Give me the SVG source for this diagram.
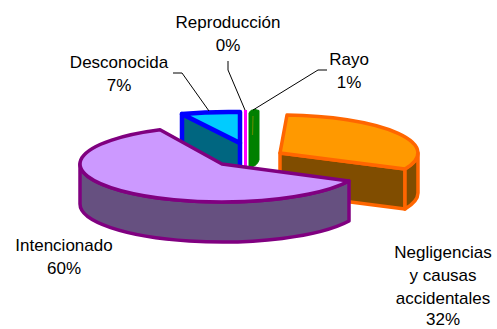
<svg xmlns="http://www.w3.org/2000/svg" width="497" height="329" viewBox="0 0 497 329">
<style>
text{font-family:"Liberation Sans",Arial,sans-serif;font-size:17px;fill:#000;text-anchor:middle}
.lead{fill:none;stroke:#000;stroke-width:1}
.pu{stroke:#800080;stroke-width:3.5;stroke-linejoin:round}
.or{stroke:#FF6600;stroke-width:3.5;stroke-linejoin:round}
.bl{stroke:#0000FF;stroke-width:4.5;stroke-linejoin:round}
</style>
<rect width="497" height="329" fill="#fff"/>
<g id="desconocida">
<path class="bl" fill="#006680" d="M240,143 L182,114 L182,154 L240,183 Z"/>
<path class="bl" fill="#00CCFF" d="M240,143 L182,114 A142,38 0 0 1 240,112 Z"/>
<text x="119" y="68">Desconocida</text>
<text x="119" y="91">7%</text>
</g>
<g id="reproduccion">
<rect x="244" y="110" width="3" height="58" fill="#FF00FF"/>
<text x="228" y="28">Reproducción</text>
<text x="228" y="51">0%</text>
</g>
<g id="rayo">
<path fill="#008000" stroke="#008000" stroke-width="1" d="M249,113 Q250,109.5 255,109.5 L259,110.5 L259,160 Q257,166 251,167 L249,167 Z"/>
<path d="M253,116 L252.5,135" stroke="#809000" stroke-width="1.2" opacity="0.7" fill="none"/>
<text x="349" y="65">Rayo</text>
<text x="349" y="88">1%</text>
</g>
<g id="negligencias">
<path class="or" fill="#804D00" d="M280,153 L405,169 L405,209 L280,193 Z"/>
<path class="or" fill="#804D00" d="M405,169 A138,38 0 0 0 418,153 L418,193 A138,38 0 0 1 405,209 Z"/>
<path class="or" fill="#FF9900" d="M280,153 L287,115 A138,38 0 0 1 405,169 Z"/>
<text x="443" y="258">Negligencias</text>
<text x="443" y="281">y causas</text>
<text x="443" y="304">accidentales</text>
<text x="443" y="325">32%</text>
</g>
<g id="intencionado">
<path class="pu" fill="#665080" d="M349,181 A142,38 0 0 1 80,164 L80,204 A142,38 0 0 0 349,221 Z"/>
<path class="pu" fill="#CC99FF" d="M222,164 L160,129.8 A142,38 0 1 0 349,181 Z"/>
<text x="64" y="251">Intencionado</text>
<text x="64" y="274">60%</text>
</g>
<g id="connectors">
<path class="lead" d="M173,73 H182 L209,111"/>
<path class="lead" d="M228,61 V70 L245,110"/>
<path class="lead" d="M327,70 H318 L253,110"/>
</g>
</svg>
